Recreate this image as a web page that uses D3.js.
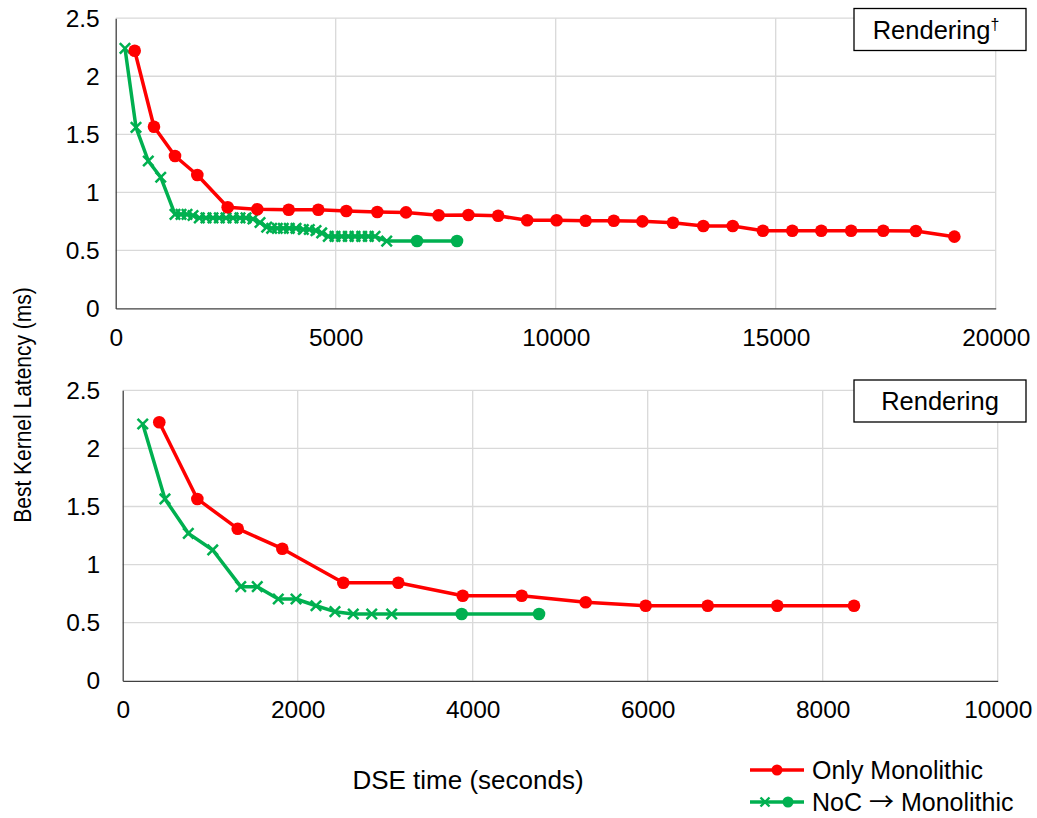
<!DOCTYPE html>
<html>
<head>
<meta charset="utf-8">
<script src="https://cdn.jsdelivr.net/npm/d3@7"></script>
<style>
	body { margin: 0; background: #fff; }
	svg { font-family: "Liberation Sans", Arial, sans-serif; }
</style>
</head>
<body>
<svg id="chart" width="1037" height="818"></svg>
<script>
// top panel (Rendering†), x = DSE time in s, y = best latency in ms
var topMonoX = [432, 870, 1348, 1855, 2545, 3218, 3932, 4605, 5241, 5945, 6598, 7339, 8016, 8693, 9352, 10020, 10680, 11320, 11970, 12666, 13355, 14023, 14709, 15377, 16036, 16714, 17445, 18186, 19061];
var topMonoY = [2.22, 1.565, 1.313, 1.149, 0.871, 0.854, 0.85, 0.85, 0.839, 0.83, 0.827, 0.802, 0.804, 0.798, 0.759, 0.759, 0.755, 0.755, 0.75, 0.738, 0.71, 0.71, 0.669, 0.669, 0.669, 0.669, 0.669, 0.667, 0.618];
var topNocX = [211, 461, 741, 1023, 1348, 1484, 1620, 1757, 1900, 2052, 2211, 2355, 2507, 2666, 2825, 2961, 3120, 3280, 3432, 3545, 3673, 3809, 3945, 4098, 4264, 4400, 4552, 4682, 4832, 4984, 5136, 5286, 5439, 5591, 5741, 5893, 6159];
var topNocY = [2.24, 1.56, 1.27, 1.13, 0.81, 0.81, 0.81, 0.8, 0.78, 0.78, 0.78, 0.78, 0.78, 0.78, 0.78, 0.78, 0.77, 0.74, 0.7, 0.69, 0.69, 0.69, 0.69, 0.69, 0.68, 0.68, 0.67, 0.65, 0.62, 0.62, 0.62, 0.62, 0.62, 0.62, 0.62, 0.62, 0.58];
var topNocMonoX = [6848, 7757];
var topNocMonoY = [0.58, 0.58];

// bottom panel (Rendering)
var botMonoX = [418, 853, 1314, 1824, 2521, 3150, 3886, 4560, 5291, 5977, 6686, 7481, 8358];
var botMonoY = [2.225, 1.565, 1.309, 1.137, 0.844, 0.844, 0.732, 0.732, 0.676, 0.646, 0.646, 0.646, 0.646];
var botNocX = [229, 483, 750, 1029, 1349, 1538, 1778, 1981, 2209, 2426, 2635, 2846, 3074];
var botNocY = [2.21, 1.565, 1.269, 1.126, 0.81, 0.81, 0.704, 0.704, 0.646, 0.595, 0.575, 0.575, 0.575];
var botNocMonoX = [3874, 4758];
var botNocMonoY = [0.575, 0.575];

var yTicks = [0, 0.5, 1, 1.5, 2, 2.5];
var topXTicks = [0, 5000, 10000, 15000, 20000];
var botXTicks = [0, 2000, 4000, 6000, 8000, 10000];

var seriesNames = ["Only Monolithic", "NoC", "Monolithic"];
var RED = "#ff0000", GREEN = "#00b050";

function zip(xs, ys) {
	return xs.map(function(x, i) { return {x: x, y: ys[i]}; });
}

var svg = d3.select("#chart");

function drawPanel(cfg) {
	var x = d3.scaleLinear().domain([0, cfg.xMax]).range([cfg.left, cfg.right]);
	var y = d3.scaleLinear().domain([0, 2.5]).range([cfg.bottom, cfg.top]);
	var g = svg.append("g");

	// gridlines
	g.append("g").selectAll("line").data(yTicks.slice(1)).enter().append("line")
		.attr("x1", cfg.left).attr("x2", cfg.right)
		.attr("y1", function(d) { return y(d); }).attr("y2", function(d) { return y(d); })
		.attr("stroke", "#d9d9d9").attr("stroke-width", 1.3);
	g.append("g").selectAll("line").data(cfg.xTicks.slice(1)).enter().append("line")
		.attr("x1", function(d) { return x(d); }).attr("x2", function(d) { return x(d); })
		.attr("y1", cfg.top).attr("y2", cfg.bottom)
		.attr("stroke", "#d9d9d9").attr("stroke-width", 1.3);

	var xAxis = g.append("g")
		.attr("transform", "translate(0," + cfg.bottom + ")")
		.call(d3.axisBottom(x).tickValues(cfg.xTicks).tickSize(0).tickPadding(20).tickFormat(d3.format("d")));
	xAxis.select(".domain").attr("stroke", "#404040").attr("stroke-width", 1.3);

	var yAxis = g.append("g")
		.attr("transform", "translate(" + cfg.left + ",0)")
		.call(d3.axisLeft(y).tickValues(yTicks).tickSize(0).tickPadding(cfg.yPad).tickFormat(function(d) { return String(d); }));
	yAxis.select(".domain").attr("stroke", "#404040").attr("stroke-width", 1.3);

	g.selectAll(".tick text")
		.attr("font-size", 24.5).attr("fill", "#000")
		.style("font-family", "'Liberation Sans', Arial, sans-serif");

	var line = d3.line().x(function(d) { return x(d.x); }).y(function(d) { return y(d.y); });

	var mono = zip(cfg.monoX, cfg.monoY);
	var noc = zip(cfg.nocX, cfg.nocY);
	var nocMono = zip(cfg.nocMonoX, cfg.nocMonoY);

	g.append("path").datum(noc.concat(nocMono)).attr("d", line)
		.attr("fill", "none").attr("stroke", GREEN).attr("stroke-width", 3.5).attr("stroke-linejoin", "round");
	g.append("g").selectAll("path").data(noc).enter().append("path")
		.attr("d", function(d) {
			var cx = x(d.x), cy = y(d.y), s = 5.2;
			return "M" + (cx - s) + "," + (cy - s) + "L" + (cx + s) + "," + (cy + s) +
				"M" + (cx - s) + "," + (cy + s) + "L" + (cx + s) + "," + (cy - s);
		})
		.attr("stroke", GREEN).attr("stroke-width", 2.5);
	g.append("g").selectAll("circle").data(nocMono).enter().append("circle")
		.attr("cx", function(d) { return x(d.x); }).attr("cy", function(d) { return y(d.y); })
		.attr("r", 6.3).attr("fill", GREEN);

	g.append("path").datum(mono).attr("d", line)
		.attr("fill", "none").attr("stroke", RED).attr("stroke-width", 3.5).attr("stroke-linejoin", "round");
	g.append("g").selectAll("circle").data(mono).enter().append("circle")
		.attr("cx", function(d) { return x(d.x); }).attr("cy", function(d) { return y(d.y); })
		.attr("r", 6.3).attr("fill", RED);

	// title box
	var box = g.append("g");
	box.append("rect")
		.attr("x", 854).attr("y", cfg.boxTop).attr("width", 172).attr("height", 42)
		.attr("fill", "#fff").attr("stroke", "#000").attr("stroke-width", 1.3);
	var t = box.append("text")
		.attr("x", cfg.dagger ? 936 : 940).attr("y", cfg.boxTop + 30)
		.attr("text-anchor", "middle").attr("font-size", 25.5).text(cfg.title);
	if (cfg.dagger) {
		t.append("tspan").attr("font-size", 16).attr("dy", -9).text("\u2020");
	}
}

drawPanel({
	left: 115.7, right: 995.7, top: 18.2, bottom: 308.4, xMax: 20000, xTicks: topXTicks,
	monoX: topMonoX, monoY: topMonoY, nocX: topNocX, nocY: topNocY,
	nocMonoX: topNocMonoX, nocMonoY: topNocMonoY, yPad: 16,
	title: "Rendering", dagger: true, boxTop: 8.5
});
drawPanel({
	left: 122.7, right: 997.7, top: 390.3, bottom: 680.8, xMax: 10000, xTicks: botXTicks,
	monoX: botMonoX, monoY: botMonoY, nocX: botNocX, nocY: botNocY,
	nocMonoX: botNocMonoX, nocMonoY: botNocMonoY, yPad: 22.5,
	title: "Rendering", dagger: false, boxTop: 380
});

// axis titles
svg.append("text")
	.attr("transform", "translate(31,405) scale(1.15,1) rotate(-90)")
	.attr("text-anchor", "middle").attr("font-size", 21)
	.text("Best Kernel Latency (ms)");
svg.append("text")
	.attr("x", 468).attr("y", 789)
	.attr("text-anchor", "middle").attr("font-size", 26)
	.text("DSE time (seconds)");

// legend
var legend = svg.append("g");
var rows = [
	{color: RED, y: 770, cross: false},
	{color: GREEN, y: 802, cross: true}
];
rows.forEach(function(r, i) {
	legend.append("line").attr("x1", 750).attr("x2", 804).attr("y1", r.y).attr("y2", r.y)
		.attr("stroke", r.color).attr("stroke-width", 3.5);
	if (r.cross) {
		var s = 4.5, cx = 765;
		legend.append("path")
			.attr("d", "M" + (cx - s) + "," + (r.y - s) + "L" + (cx + s) + "," + (r.y + s) +
				"M" + (cx - s) + "," + (r.y + s) + "L" + (cx + s) + "," + (r.y - s))
			.attr("stroke", r.color).attr("stroke-width", 2.4);
		legend.append("circle").attr("cx", 788).attr("cy", r.y).attr("r", 5.5).attr("fill", r.color);
	} else {
		legend.append("circle").attr("cx", 777).attr("cy", r.y).attr("r", 5.5).attr("fill", r.color);
	}
	var txt = legend.append("text").attr("x", 812).attr("y", r.y + 9).attr("font-size", 25);
	if (i === 0) {
		txt.text(seriesNames[0]);
	} else {
		txt.append("tspan").text(seriesNames[1] + " ");
		txt.append("tspan").style("font-family", "'Noto Sans CJK JP', 'DejaVu Sans', sans-serif").text("\u2192");
		txt.append("tspan").text(" " + seriesNames[2]);
	}
});
</script>
</body>
</html>
